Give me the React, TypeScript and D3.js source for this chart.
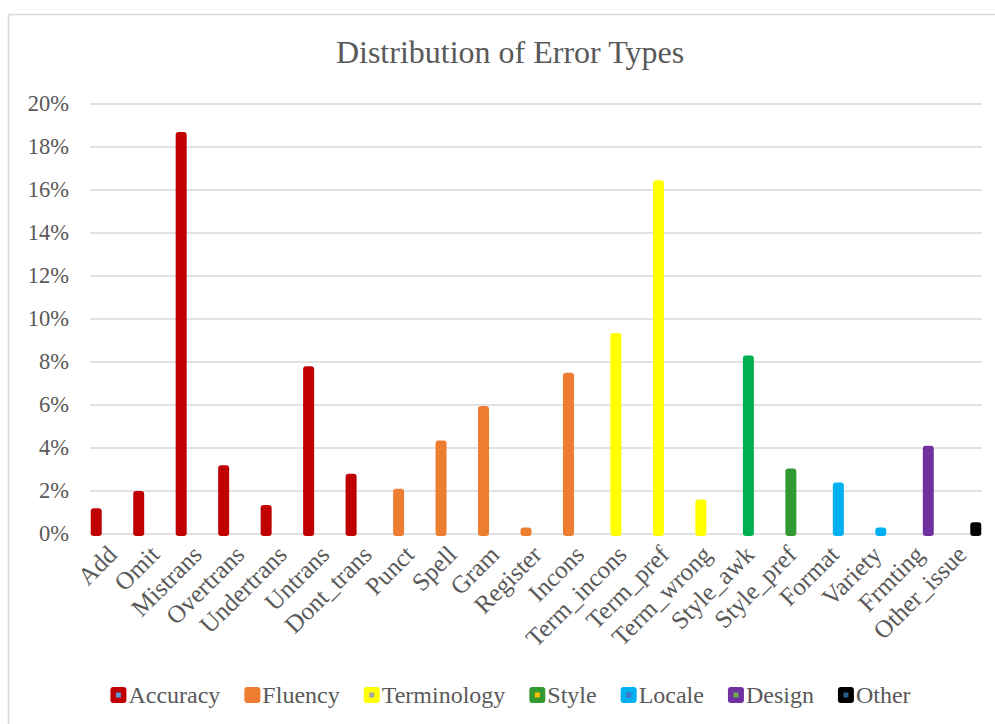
import React from 'react'
import * as d3 from 'd3'

const categories = ['Add', 'Omit', 'Mistrans', 'Overtrans', 'Undertrans', 'Untrans', 'Dont_trans',
  'Punct', 'Spell', 'Gram', 'Register', 'Incons',
  'Term_incons', 'Term_pref', 'Term_wrong',
  'Style_awk', 'Style_pref',
  'Format', 'Variety',
  'Frmting',
  'Other_issue']
const values = [1.2, 2.0, 18.7, 3.2, 1.35, 7.8, 2.8,
  2.1, 4.35, 5.95, 0.3, 7.5,
  9.35, 16.45, 1.6,
  8.3, 3.05,
  2.4, 0.3,
  4.1,
  0.55]
const groups = ['Accuracy', 'Accuracy', 'Accuracy', 'Accuracy', 'Accuracy', 'Accuracy', 'Accuracy',
  'Fluency', 'Fluency', 'Fluency', 'Fluency', 'Fluency',
  'Terminology', 'Terminology', 'Terminology',
  'Style', 'Style',
  'Locale', 'Locale',
  'Design',
  'Other']
const barColors = ['#C00000', '#C00000', '#C00000', '#C00000', '#C00000', '#C00000', '#C00000',
  '#ED7D31', '#ED7D31', '#ED7D31', '#ED7D31', '#ED7D31',
  '#FFFF00', '#FFFF00', '#FFFF00',
  '#00B050', '#339933',
  '#00B0F0', '#00B0F0',
  '#7030A0',
  '#000000']
const seriesNames = ['Accuracy', 'Fluency', 'Terminology', 'Style', 'Locale', 'Design', 'Other']
const seriesColors = ['#C00000', '#ED7D31', '#FFFF00', '#339933', '#00B0F0', '#7030A0', '#000000']
const seriesDots = ['#5B9BD5', '#ED7D31', '#A5A5A5', '#FFC000', '#4472C4', '#70AD47', '#255E91']
const yTicks = [0, 2, 4, 6, 8, 10, 12, 14, 16, 18, 20]

const FONT = "'Liberation Serif', 'Times New Roman', serif"
const TEXT = '#595959'

function measure (s: string, size: number) {
  const ctx = document.createElement('canvas').getContext('2d')
  if (!ctx) return s.length * size * 0.45
  ctx.font = `${size}px "Liberation Serif"`
  return ctx.measureText(s).width
}

export default function App () {
  const width = 995
  const height = 724
  const left = 90
  const right = 982
  const top = 104
  const bottom = 534

  const x = d3.scaleBand().domain(categories).range([left, right]).padding(0)
  const xSeries = d3.scalePoint().domain(seriesNames).range([-15, 15])
  const y = d3.scaleLinear().domain([0, 20]).range([bottom, top])
  const barW = 11

  // legend layout
  const legendFont = 24
  const markerSize = 16
  const items = seriesNames.map(s => ({ s, w: markerSize + 3 + measure(s, legendFont) }))
  const gap = 23
  const total = d3.sum(items, d => d.w) + gap * (items.length - 1)
  let lx = 511 - total / 2
  const legendPos = items.map(d => {
    const p = lx
    lx += d.w + gap
    return p
  })

  return <svg width={width} height={height} style={{ position: 'absolute', left: 0, top: 0 }}>
    <rect x={0} y={0} width={width} height={height} fill='#fff' />
    <rect x={8.5} y={14.5} width={1100} height={900} fill='#fff' stroke='#D9D9D9' strokeWidth={1.5} />
    <text x={510} y={63} textAnchor='middle' fontFamily={FONT} fontSize={32} fill={TEXT}>Distribution of Error Types</text>
    <g>
      {yTicks.map(v => <g key={v} transform={`translate(0,${y(v)})`}>
        <line x1={left} x2={right} stroke='#D9D9D9' strokeWidth={1.5} />
        <text x={69} dy='0.33em' textAnchor='end' fontFamily={FONT} fontSize={22.5} fill={TEXT}>{v}%</text>
      </g>)}
    </g>
    <g>
      {categories.map((c, i) => {
        const cx = (x(c) as number) + x.bandwidth() / 2 + (xSeries(groups[i]) as number)
        const yt = y(values[i])
        const h = bottom + 2 - yt
        return <rect key={c} x={cx - barW / 2} y={yt} width={barW} height={h} rx={3} fill={barColors[i]} />
      })}
    </g>
    <g>
      {categories.map(c => {
        const cx = (x(c) as number) + x.bandwidth() / 2
        return <text key={c} transform={`translate(${cx + 1},${bottom + 16}) rotate(-45)`} textAnchor='end'
          dy='0.35em' fontFamily={FONT} fontSize={25} fill={TEXT}>{c}</text>
      })}
    </g>
    <g>
      {items.map((d, i) => <g key={d.s} transform={`translate(${legendPos[i]},687)`}>
        <rect width={markerSize} height={markerSize} rx={3} fill={seriesColors[i]} />
        <rect x={markerSize / 2 - 2.5} y={markerSize / 2 - 2.5} width={5} height={5} fill={seriesDots[i]} />
        <text x={markerSize + 2} y={markerSize / 2} dy='0.35em' fontFamily={FONT} fontSize={legendFont} fill={TEXT}>{d.s}</text>
      </g>)}
    </g>
  </svg>
}
